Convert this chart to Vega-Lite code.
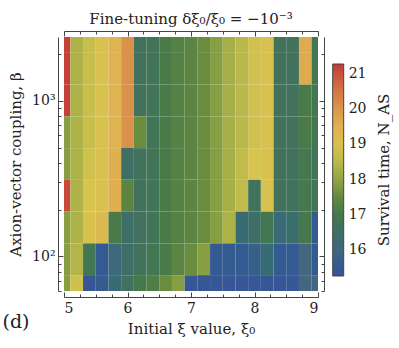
{
  "$schema": "https://vega.github.io/schema/vega-lite/v6.json",
  "autosize": "none",
  "width": 254,
  "height": 254,
  "padding": {"left": 64, "top": 37, "right": 81, "bottom": 57},
  "background": "white",
  "config": {
    "view": {"stroke": null},
    "font": "DejaVu Serif",
    "axis": {"domainColor": "#444", "tickColor": "#444", "labelColor": "#222", "titleColor": "#222", "labelFont": "DejaVu Serif", "titleFont": "DejaVu Serif", "titleFontWeight": "normal", "grid": false}
  },
  "title": {"text": "Fine-tuning δξ₀/ξ₀ = −10⁻³", "anchor": "middle", "frame": "group", "fontSize": 15, "fontWeight": "normal", "font": "DejaVu Serif", "color": "#222", "baseline": "alphabetic", "offset": -8},
  "data": {"values": [
    {"xi":5.0,"beta":2576.98,"N":21.2},{"xi":5.2,"beta":2576.98,"N":18.3},{"xi":5.4,"beta":2576.98,"N":18.7},{"xi":5.6,"beta":2576.98,"N":19.0},{"xi":5.8,"beta":2576.98,"N":19.4},{"xi":6.0,"beta":2576.98,"N":20.1},{"xi":6.2,"beta":2576.98,"N":16.7},{"xi":6.4,"beta":2576.98,"N":16.8},{"xi":6.6,"beta":2576.98,"N":17.1},{"xi":6.8,"beta":2576.98,"N":17.3},{"xi":7.0,"beta":2576.98,"N":17.4},{"xi":7.2,"beta":2576.98,"N":17.6},{"xi":7.4,"beta":2576.98,"N":17.9},{"xi":7.6,"beta":2576.98,"N":18.2},{"xi":7.8,"beta":2576.98,"N":18.5},{"xi":8.0,"beta":2576.98,"N":18.8},{"xi":8.2,"beta":2576.98,"N":19.0},{"xi":8.4,"beta":2576.98,"N":16.7},{"xi":8.6,"beta":2576.98,"N":16.7},{"xi":8.8,"beta":2576.98,"N":19.6},{"xi":9.0,"beta":2576.98,"N":16.9},
    {"xi":5.0,"beta":1610.61,"N":21.2},{"xi":5.2,"beta":1610.61,"N":18.3},{"xi":5.4,"beta":1610.61,"N":18.7},{"xi":5.6,"beta":1610.61,"N":19.0},{"xi":5.8,"beta":1610.61,"N":19.4},{"xi":6.0,"beta":1610.61,"N":20.1},{"xi":6.2,"beta":1610.61,"N":16.7},{"xi":6.4,"beta":1610.61,"N":16.8},{"xi":6.6,"beta":1610.61,"N":17.1},{"xi":6.8,"beta":1610.61,"N":17.3},{"xi":7.0,"beta":1610.61,"N":17.4},{"xi":7.2,"beta":1610.61,"N":17.6},{"xi":7.4,"beta":1610.61,"N":17.9},{"xi":7.6,"beta":1610.61,"N":18.2},{"xi":7.8,"beta":1610.61,"N":18.5},{"xi":8.0,"beta":1610.61,"N":18.8},{"xi":8.2,"beta":1610.61,"N":19.0},{"xi":8.4,"beta":1610.61,"N":16.7},{"xi":8.6,"beta":1610.61,"N":16.7},{"xi":8.8,"beta":1610.61,"N":19.6},{"xi":9.0,"beta":1610.61,"N":16.9},
    {"xi":5.0,"beta":1006.63,"N":21.2},{"xi":5.2,"beta":1006.63,"N":18.3},{"xi":5.4,"beta":1006.63,"N":18.7},{"xi":5.6,"beta":1006.63,"N":19.0},{"xi":5.8,"beta":1006.63,"N":19.4},{"xi":6.0,"beta":1006.63,"N":20.1},{"xi":6.2,"beta":1006.63,"N":16.7},{"xi":6.4,"beta":1006.63,"N":16.8},{"xi":6.6,"beta":1006.63,"N":17.1},{"xi":6.8,"beta":1006.63,"N":17.3},{"xi":7.0,"beta":1006.63,"N":17.4},{"xi":7.2,"beta":1006.63,"N":17.6},{"xi":7.4,"beta":1006.63,"N":17.9},{"xi":7.6,"beta":1006.63,"N":18.2},{"xi":7.8,"beta":1006.63,"N":18.5},{"xi":8.0,"beta":1006.63,"N":18.8},{"xi":8.2,"beta":1006.63,"N":19.0},{"xi":8.4,"beta":1006.63,"N":16.7},{"xi":8.6,"beta":1006.63,"N":16.7},{"xi":8.8,"beta":1006.63,"N":17.1},{"xi":9.0,"beta":1006.63,"N":16.9},
    {"xi":5.0,"beta":629.15,"N":17.9},{"xi":5.2,"beta":629.15,"N":18.3},{"xi":5.4,"beta":629.15,"N":18.7},{"xi":5.6,"beta":629.15,"N":19.0},{"xi":5.8,"beta":629.15,"N":19.4},{"xi":6.0,"beta":629.15,"N":20.1},{"xi":6.2,"beta":629.15,"N":17.6},{"xi":6.4,"beta":629.15,"N":16.8},{"xi":6.6,"beta":629.15,"N":17.1},{"xi":6.8,"beta":629.15,"N":17.3},{"xi":7.0,"beta":629.15,"N":17.4},{"xi":7.2,"beta":629.15,"N":17.6},{"xi":7.4,"beta":629.15,"N":17.9},{"xi":7.6,"beta":629.15,"N":18.2},{"xi":7.8,"beta":629.15,"N":18.5},{"xi":8.0,"beta":629.15,"N":18.8},{"xi":8.2,"beta":629.15,"N":19.0},{"xi":8.4,"beta":629.15,"N":16.7},{"xi":8.6,"beta":629.15,"N":16.7},{"xi":8.8,"beta":629.15,"N":17.1},{"xi":9.0,"beta":629.15,"N":16.9},
    {"xi":5.0,"beta":393.22,"N":17.9},{"xi":5.2,"beta":393.22,"N":18.3},{"xi":5.4,"beta":393.22,"N":18.8},{"xi":5.6,"beta":393.22,"N":19.0},{"xi":5.8,"beta":393.22,"N":19.5},{"xi":6.0,"beta":393.22,"N":16.5},{"xi":6.2,"beta":393.22,"N":16.7},{"xi":6.4,"beta":393.22,"N":16.8},{"xi":6.6,"beta":393.22,"N":17.1},{"xi":6.8,"beta":393.22,"N":17.3},{"xi":7.0,"beta":393.22,"N":17.4},{"xi":7.2,"beta":393.22,"N":17.6},{"xi":7.4,"beta":393.22,"N":17.9},{"xi":7.6,"beta":393.22,"N":18.2},{"xi":7.8,"beta":393.22,"N":18.6},{"xi":8.0,"beta":393.22,"N":18.9},{"xi":8.2,"beta":393.22,"N":19.0},{"xi":8.4,"beta":393.22,"N":16.7},{"xi":8.6,"beta":393.22,"N":16.7},{"xi":8.8,"beta":393.22,"N":17.0},{"xi":9.0,"beta":393.22,"N":16.8},
    {"xi":5.0,"beta":245.76,"N":21.1},{"xi":5.2,"beta":245.76,"N":18.3},{"xi":5.4,"beta":245.76,"N":18.9},{"xi":5.6,"beta":245.76,"N":19.0},{"xi":5.8,"beta":245.76,"N":19.5},{"xi":6.0,"beta":245.76,"N":17.4},{"xi":6.2,"beta":245.76,"N":16.7},{"xi":6.4,"beta":245.76,"N":16.8},{"xi":6.6,"beta":245.76,"N":17.1},{"xi":6.8,"beta":245.76,"N":17.3},{"xi":7.0,"beta":245.76,"N":17.4},{"xi":7.2,"beta":245.76,"N":17.6},{"xi":7.4,"beta":245.76,"N":17.9},{"xi":7.6,"beta":245.76,"N":18.2},{"xi":7.8,"beta":245.76,"N":18.6},{"xi":8.0,"beta":245.76,"N":16.7},{"xi":8.2,"beta":245.76,"N":19.0},{"xi":8.4,"beta":245.76,"N":16.7},{"xi":8.6,"beta":245.76,"N":16.7},{"xi":8.8,"beta":245.76,"N":17.0},{"xi":9.0,"beta":245.76,"N":16.8},
    {"xi":5.0,"beta":153.6,"N":17.9},{"xi":5.2,"beta":153.6,"N":18.3},{"xi":5.4,"beta":153.6,"N":19.0},{"xi":5.6,"beta":153.6,"N":19.2},{"xi":5.8,"beta":153.6,"N":17.1},{"xi":6.0,"beta":153.6,"N":16.5},{"xi":6.2,"beta":153.6,"N":16.6},{"xi":6.4,"beta":153.6,"N":16.8},{"xi":6.6,"beta":153.6,"N":17.1},{"xi":6.8,"beta":153.6,"N":17.3},{"xi":7.0,"beta":153.6,"N":17.4},{"xi":7.2,"beta":153.6,"N":17.6},{"xi":7.4,"beta":153.6,"N":17.9},{"xi":7.6,"beta":153.6,"N":18.3},{"xi":7.8,"beta":153.6,"N":16.3},{"xi":8.0,"beta":153.6,"N":16.5},{"xi":8.2,"beta":153.6,"N":16.9},{"xi":8.4,"beta":153.6,"N":16.2},{"xi":8.6,"beta":153.6,"N":16.4},{"xi":8.8,"beta":153.6,"N":17.0},{"xi":9.0,"beta":153.6,"N":15.5},
    {"xi":5.0,"beta":96,"N":17.9},{"xi":5.2,"beta":96,"N":18.4},{"xi":5.4,"beta":96,"N":16.9},{"xi":5.6,"beta":96,"N":15.5},{"xi":5.8,"beta":96,"N":16.1},{"xi":6.0,"beta":96,"N":16.5},{"xi":6.2,"beta":96,"N":16.7},{"xi":6.4,"beta":96,"N":16.9},{"xi":6.6,"beta":96,"N":17.1},{"xi":6.8,"beta":96,"N":17.4},{"xi":7.0,"beta":96,"N":17.6},{"xi":7.2,"beta":96,"N":17.9},{"xi":7.4,"beta":96,"N":15.5},{"xi":7.6,"beta":96,"N":15.5},{"xi":7.8,"beta":96,"N":15.5},{"xi":8.0,"beta":96,"N":15.7},{"xi":8.2,"beta":96,"N":16.3},{"xi":8.4,"beta":96,"N":15.5},{"xi":8.6,"beta":96,"N":15.5},{"xi":8.8,"beta":96,"N":16.0},{"xi":9.0,"beta":96,"N":15.5},
    {"xi":5.0,"beta":60,"N":17.9},{"xi":5.2,"beta":60,"N":18.8},{"xi":5.4,"beta":60,"N":15.4},{"xi":5.6,"beta":60,"N":15.6},{"xi":5.8,"beta":60,"N":16.2},{"xi":6.0,"beta":60,"N":16.6},{"xi":6.2,"beta":60,"N":17.0},{"xi":6.4,"beta":60,"N":17.2},{"xi":6.6,"beta":60,"N":17.6},{"xi":6.8,"beta":60,"N":17.9},{"xi":7.0,"beta":60,"N":15.4},{"xi":7.2,"beta":60,"N":15.4},{"xi":7.4,"beta":60,"N":15.4},{"xi":7.6,"beta":60,"N":15.4},{"xi":7.8,"beta":60,"N":15.4},{"xi":8.0,"beta":60,"N":15.4},{"xi":8.2,"beta":60,"N":15.4},{"xi":8.4,"beta":60,"N":15.4},{"xi":8.6,"beta":60,"N":15.4},{"xi":8.8,"beta":60,"N":16.0},{"xi":9.0,"beta":60,"N":16.0}
  ]},
  "layer": [
    {
      "mark": {"type": "rect", "width": 12.7, "height": 31.75, "clip": true},
      "encoding": {
        "x": {"field": "xi", "type": "quantitative", "scale": {"domain": [5, 9], "nice": false, "zero": false},
          "axis": {"orient": "bottom", "offset": 6, "values": [5,5.25,5.5,5.75,6,6.25,6.5,6.75,7,7.25,7.5,7.75,8,8.25,8.5,8.75,9],
            "tickSize": {"condition": {"test": "datum.value % 1 === 0", "value": -5}, "value": -3},
            "labelExpr": "datum.value % 1 === 0 ? format(datum.value, 'd') : ''", "labelOverlap": false, "labelFontSize": 14, "labelPadding": 9,
            "title": "Initial ξ value, ξ₀", "titleFontSize": 15, "titlePadding": 4}},
        "y": {"field": "beta", "type": "quantitative", "scale": {"type": "log", "domain": [60, 2576.98], "nice": false},
          "axis": {"orient": "left", "offset": 6, "values": [60,70,80,90,100,200,300,400,500,600,700,800,900,1000,2000],
            "tickSize": {"condition": {"test": "datum.value === 100 || datum.value === 1000", "value": -5}, "value": -3},
            "labelExpr": "datum.value === 100 ? '10²' : datum.value === 1000 ? '10³' : ''", "labelOverlap": false, "labelFontSize": 14, "labelPadding": 8,
            "title": "Axion-vector coupling, β", "titleFontSize": 15, "titlePadding": 8}},
        "color": {"field": "N", "type": "quantitative",
          "scale": {"domain": [15.26, 16.0, 16.6, 17.1, 17.6, 18.2, 18.9, 19.5, 20.2, 21.28],
            "range": ["#3b5198", "#44667e", "#43705f", "#4a7a48", "#6a8c3e", "#a6af48", "#d6c44f", "#e0b050", "#d88c4c", "#c23a3a"]},
          "legend": {"orient": "none", "legendX": 268.7, "legendY": 27, "direction": "vertical", "gradientLength": 212, "gradientThickness": 11,
            "gradientStrokeColor": "#444", "gradientStrokeWidth": 1, "values": [16,17,18,19,20,21], "labelFontSize": 14, "labelFont": "DejaVu Serif", "labelColor": "#222", "labelOffset": 5,
            "title": "Survival time, N_AS", "titleOrient": "right", "titleAnchor": "middle", "titleAlign": "center", "titleBaseline": "top", "titleFontSize": 15, "titleFont": "DejaVu Serif", "titleFontWeight": "normal", "titleColor": "#222", "titlePadding": 10, "padding": 0, "offset": 0,
            "encode": {"title": {"update": {"angle": {"value": 270}}}}}}
      }
    },
    {
      "mark": {"type": "point", "opacity": 0},
      "encoding": {
        "x": {"field": "xi", "type": "quantitative",
          "axis": {"orient": "top", "offset": 6, "values": [5,5.25,5.5,5.75,6,6.25,6.5,6.75,7,7.25,7.5,7.75,8,8.25,8.5,8.75,9],
            "tickSize": {"condition": {"test": "datum.value % 1 === 0", "value": -5}, "value": -3}, "labels": false, "title": null}},
        "y": {"field": "beta", "type": "quantitative",
          "axis": {"orient": "right", "offset": 6, "values": [60,70,80,90,100,200,300,400,500,600,700,800,900,1000,2000],
            "tickSize": {"condition": {"test": "datum.value === 100 || datum.value === 1000", "value": -5}, "value": -3}, "labels": false, "title": null}}
      }
    },
    {
      "data": {"values": [{}]},
      "mark": {"type": "text", "fontSize": 19, "font": "DejaVu Serif", "color": "#222", "clip": false},
      "encoding": {
        "x": {"datum": 4.244, "type": "quantitative", "axis": null},
        "y": {"datum": 38, "type": "quantitative", "axis": null},
        "text": {"value": "(d)"}
      }
    }
  ],
  "resolve": {"axis": {"x": "independent", "y": "independent"}}
}
